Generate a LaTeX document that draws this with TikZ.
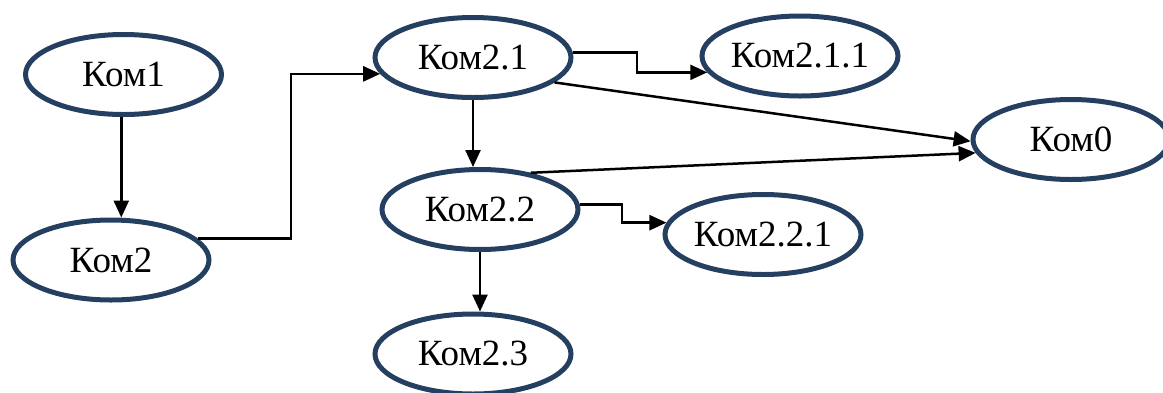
\documentclass[tikz,border=0pt]{standalone}
\usepackage{fontspec}
\setmainfont{Liberation Serif}
\usetikzlibrary{shapes.geometric,arrows.meta}
\definecolor{navy}{HTML}{243F60}
\begin{document}
\begin{tikzpicture}[x=1pt,y=-1pt,
  kom/.style={ellipse,draw=navy,line width=5pt,minimum width=196pt,minimum height=80pt,inner sep=0pt,font=\fontsize{37}{40}\selectfont},
  arr/.style={line width=2.5pt,-{Triangle[length=17pt,width=15pt]}}]
\useasboundingbox (0,0) rectangle (1163,392);
\clip (0,0) rectangle (1163,392);
\node[kom] (k1) at (123.5,74.5) {Ком1};
\node[kom] (k2) at (111,260) {Ком2};
\node[kom] (k21) at (473,57.5) {Ком2.1};
\node[kom] (k22) at (480,209.5) {Ком2.2};
\node[kom] (k23) at (473,354) {Ком2.3};
\node[kom] (k211) at (800,56) {Ком2.1.1};
\node[kom] (k221) at (763,234.5) {Ком2.2.1};
\node[kom] (k0) at (1071,139.5) {Ком0};
\coordinate (m1) at (291,0);
\coordinate (m2) at (637,0);
\coordinate (m3) at (622,0);
\draw[arr] (k1.-93) -- (k1.-93 |- k2.north);
\draw[arr] (k2.14) -- (k2.14 -| m1) |- (k21.190);
\draw[arr] (k21.3) -- (k21.3 -| m2) |- (k211.190);
\draw[arr] (k22.3) -- (k22.3 -| m3) |- (k221.173);
\draw[arr] (k21.-17) -- (k0.181);
\draw[arr] (k22.36) -- (k0.188);
\draw[arr] (k21.south) -- (k21.south |- k22.north);
\draw[arr] (k22.south) -- (k22.south |- k23.north);
\end{tikzpicture}
\end{document}
